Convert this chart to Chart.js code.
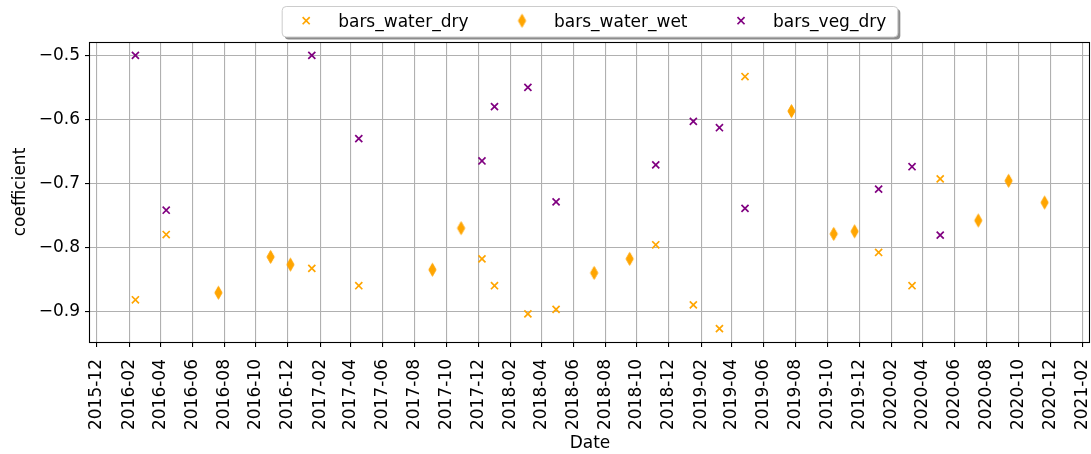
<!DOCTYPE html>
<html>
<head>
<meta charset="utf-8">
<script src="https://cdn.jsdelivr.net/npm/chart.js@4.4.1/dist/chart.umd.min.js"></script>
<style>
  html, body { margin: 0; padding: 0; background: #fff; }
  #wrap { width: 1091px; height: 454px; }
</style>
</head>
<body>
<div id="wrap"><canvas id="c" width="1091" height="454"></canvas></div>
<script>
// ---- data ----
const dryDates = ['2016-02-13','2016-04-12','2017-01-16','2017-04-16','2017-12-08','2018-01-01','2018-03-06','2018-04-29','2018-11-06','2019-01-17','2019-03-08','2019-04-26','2020-01-07','2020-03-11','2020-05-04'];
const waterDryValues = [-0.882,-0.780,-0.833,-0.860,-0.818,-0.860,-0.904,-0.897,-0.796,-0.890,-0.927,-0.533,-0.808,-0.860,-0.693];
const vegDryValues   = [-0.500,-0.742,-0.500,-0.630,-0.665,-0.580,-0.550,-0.729,-0.671,-0.603,-0.613,-0.739,-0.709,-0.674,-0.781];
const wetDates = ['2016-07-21','2016-10-29','2016-12-06','2017-09-04','2017-10-29','2018-07-11','2018-09-17','2019-07-24','2019-10-13','2019-11-22','2020-07-16','2020-09-12','2020-11-20'];
const waterWetValues = [-0.871,-0.815,-0.827,-0.835,-0.770,-0.840,-0.818,-0.587,-0.779,-0.775,-0.758,-0.696,-0.730];
const seriesNames = ['bars_water_dry','bars_water_wet','bars_veg_dry'];
const xTickLabels = ['2015-12','2016-02','2016-04','2016-06','2016-08','2016-10','2016-12',
  '2017-02','2017-04','2017-06','2017-08','2017-10','2017-12',
  '2018-02','2018-04','2018-06','2018-08','2018-10','2018-12',
  '2019-02','2019-04','2019-06','2019-08','2019-10','2019-12',
  '2020-02','2020-04','2020-06','2020-08','2020-10','2020-12','2021-02'];
const yTickValues = [-0.9,-0.8,-0.7,-0.6,-0.5];
const xRange = ['2015-11-18','2021-02-15'];
const yRange = [-0.948,-0.479];

// ---- styles ----
const ORANGE = '#FFA500';
const PURPLE = '#800080';
const FONT = '"DejaVu Sans", "Liberation Sans", sans-serif';
const FS = 17;

function makeDiamond(color) {
  const c = document.createElement('canvas');
  c.width = 11; c.height = 16;
  const g = c.getContext('2d');
  g.fillStyle = color; g.strokeStyle = color; g.lineWidth = 1;
  g.beginPath();
  g.moveTo(5.5, 1.6); g.lineTo(9.1, 8); g.lineTo(5.5, 14.4); g.lineTo(1.9, 8);
  g.closePath(); g.fill(); g.stroke();
  return c;
}
const diamond = makeDiamond(ORANGE);

const toPts = (dates, vals) => dates.map((d, i) => ({ x: Date.parse(d), y: vals[i] }));

Chart.defaults.font.family = FONT;
Chart.defaults.font.size = FS;
Chart.defaults.color = '#000';

function roundRect(ctx, x, y, w, h, r) {
  ctx.beginPath();
  ctx.moveTo(x + r, y);
  ctx.lineTo(x + w - r, y); ctx.quadraticCurveTo(x + w, y, x + w, y + r);
  ctx.lineTo(x + w, y + h - r); ctx.quadraticCurveTo(x + w, y + h, x + w - r, y + h);
  ctx.lineTo(x + r, y + h); ctx.quadraticCurveTo(x, y + h, x, y + h - r);
  ctx.lineTo(x, y + r); ctx.quadraticCurveTo(x, y, x + r, y);
  ctx.closePath();
}

const framePlugin = {
  id: 'frame',
  afterDatasetsDraw(chart) {
    const { ctx, chartArea: a } = chart;
    ctx.save();
    ctx.strokeStyle = '#000'; ctx.lineWidth = 1.1;
    ctx.strokeRect(Math.round(a.left) - 0.5, Math.round(a.top) + 0.5, Math.round(a.right - a.left), Math.round(a.bottom - a.top));
    ctx.restore();
  }
};

const legendPlugin = {
  id: 'mplLegend',
  afterDraw(chart) {
    const { ctx, chartArea: a } = chart;
    ctx.save();
    ctx.font = FS + 'px ' + FONT;
    const items = chart.data.datasets.map(ds => ({ ds, w: ctx.measureText(ds.label).width }));
    const padL = 24, gapMT = 32, gapTM = 53.5, padR = 11.6;
    const total = padL + items.reduce((s, it) => s + gapMT + it.w, 0) + gapTM * (items.length - 1) + padR;
    const cx = (a.left + a.right) / 2;
    const left = cx - total / 2, top = 6.5, h = 30.5;
    ctx.fillStyle = 'rgba(0,0,0,0.45)';
    roundRect(ctx, left + 2.5, top + 2.5, total, h, 4); ctx.fill();
    ctx.fillStyle = '#fff';
    roundRect(ctx, left, top, total, h, 4); ctx.fill();
    ctx.strokeStyle = '#cccccc'; ctx.lineWidth = 1; ctx.stroke();
    let x = left + padL;
    const my = 20.7;
    items.forEach(it => {
      const ds = it.ds;
      ctx.strokeStyle = ds.pointBorderColor; ctx.fillStyle = ds.pointBackgroundColor;
      ctx.lineWidth = ds.pointBorderWidth;
      Chart.helpers.drawPoint(ctx, { pointStyle: ds.pointStyle, radius: ds.pointRadius, borderWidth: ds.pointBorderWidth, rotation: 0 }, x, my);
      ctx.fillStyle = '#000'; ctx.textBaseline = 'alphabetic'; ctx.textAlign = 'left';
      ctx.fillText(ds.label, x + gapMT, 27);
      x += gapMT + it.w + gapTM;
    });
    ctx.restore();
  }
};

const gridCommon = { color: '#b0b0b0', lineWidth: 1.1, tickLength: 5, tickColor: '#000', tickWidth: 1.1, drawTicks: true };

new Chart(document.getElementById('c'), {
  type: 'scatter',
  data: {
    datasets: [
      { label: seriesNames[0], data: toPts(dryDates, waterDryValues), pointStyle: 'crossRot', pointRadius: 5,
        pointBorderColor: ORANGE, pointBackgroundColor: ORANGE, borderColor: ORANGE, backgroundColor: ORANGE, pointBorderWidth: 1.7, order: 3 },
      { label: seriesNames[1], data: toPts(wetDates, waterWetValues), pointStyle: diamond, pointRadius: 5,
        pointBorderColor: ORANGE, pointBackgroundColor: ORANGE, borderColor: ORANGE, backgroundColor: ORANGE, pointBorderWidth: 1, order: 2 },
      { label: seriesNames[2], data: toPts(dryDates, vegDryValues), pointStyle: 'crossRot', pointRadius: 5,
        pointBorderColor: PURPLE, pointBackgroundColor: PURPLE, borderColor: PURPLE, backgroundColor: PURPLE, pointBorderWidth: 1.7, order: 1 }
    ]
  },
  options: {
    responsive: false,
    animation: false,
    events: [],
    devicePixelRatio: 1,
    layout: { autoPadding: false, padding: { top: 42, right: 1, left: 0, bottom: 0 } },
    plugins: { legend: { display: false }, tooltip: { enabled: false } },
    scales: {
      x: {
        type: 'linear',
        min: Date.parse(xRange[0]), max: Date.parse(xRange[1]),
        afterBuildTicks: s => { s.ticks = xTickLabels.map(l => ({ value: Date.parse(l + '-01') })); },
        afterFit: s => { s.height = 112; s.paddingLeft = 0; s.paddingRight = 0; },
        ticks: { autoSkip: false, minRotation: 90, maxRotation: 90, padding: 12, color: '#000',
          callback: (v, i) => xTickLabels[i] },
        grid: gridCommon,
        border: { display: false },
        title: { display: true, text: 'Date', color: '#000', padding: { top: 0, bottom: 0 } }
      },
      y: {
        type: 'linear',
        min: yRange[0], max: yRange[1],
        afterBuildTicks: s => { s.ticks = yTickValues.map(v => ({ value: v })); },
        afterFit: s => { s.width = 90; s.paddingTop = 0; s.paddingBottom = 0; },
        ticks: { padding: 5, color: '#000',
          callback: v => (v < 0 ? '\u2212' : '') + Math.abs(v).toFixed(1) },
        grid: gridCommon,
        border: { display: false },
        title: { display: true, text: 'coefficient', color: '#000', padding: { top: 10.8, bottom: 0 } }
      }
    }
  },
  plugins: [framePlugin, legendPlugin]
});
</script>
</body>
</html>
